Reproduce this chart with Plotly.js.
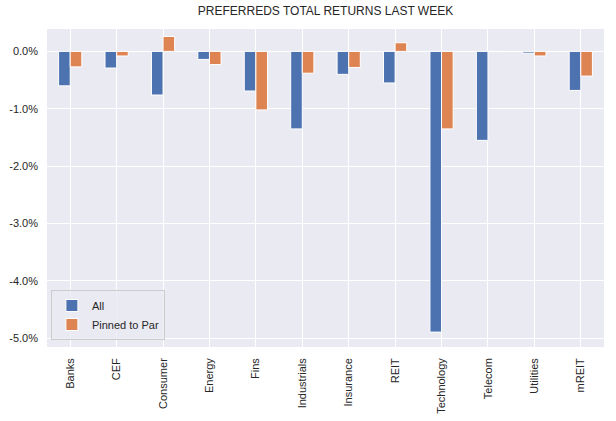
<!DOCTYPE html>
<html><head><meta charset="utf-8">
<script src="https://cdn.plot.ly/plotly-3.0.1.min.js"></script>
<style>html,body{margin:0;padding:0;background:#fff}</style>
</head><body>
<div id="chart" style="width:616px;height:421px"></div>
<script>
const categories = ["Banks","CEF","Consumer","Energy","Fins","Industrials","Insurance","REIT","Technology","Telecom","Utilities","mREIT"];
const allValues = [-0.60,-0.29,-0.76,-0.14,-0.69,-1.35,-0.40,-0.55,-4.89,-1.55,-0.03,-0.68];
const pinnedValues = [-0.27,-0.08,0.26,-0.23,-1.02,-0.38,-0.28,0.15,-1.35,0.0,-0.08,-0.43];
const yTickVals = [0,-1,-2,-3,-4,-5];
const yTickText = ["0.0%","-1.0%","-2.0%","-3.0%","-4.0%","-5.0%"];

const traces = [
  {type:'bar', name:'All', x:categories, y:allValues,
   marker:{color:'#4C72B0', line:{color:'#ffffff', width:1}}},
  {type:'bar', name:'Pinned to Par', x:categories, y:pinnedValues,
   marker:{color:'#DD8452', line:{color:'#ffffff', width:1}}}
];
const layout = {
  width:616, height:421,
  margin:{l:47, r:12, t:29, b:74},
  paper_bgcolor:'#ffffff', plot_bgcolor:'#EAEAF2',
  font:{family:'"Liberation Sans", Arial, sans-serif', size:11, color:'#262626'},
  title:{text:'PREFERREDS TOTAL RETURNS LAST WEEK', font:{size:12, color:'#262626'}, x:0.5, xref:'paper', y:0.975, yref:'container', yanchor:'middle'},
  barmode:'group', bargap:0.5, bargroupgap:0,
  showlegend:true,
  legend:{x:0.007, y:0.022, xanchor:'left', yanchor:'bottom', bgcolor:'rgba(234,234,242,0.8)', bordercolor:'#cccccc', borderwidth:1, font:{size:11, color:'#262626'}, tracegroupgap:0},
  xaxis:{type:'category', range:[-0.5,11.5], tickangle:-90, showgrid:true, gridcolor:'#ffffff', gridwidth:1, zeroline:false, ticks:'', ticklabelstandoff:8, tickfont:{size:11, color:'#262626'}, showline:false},
  yaxis:{range:[-5.15,0.39], tickvals:yTickVals, ticktext:yTickText, showgrid:true, gridcolor:'#ffffff', gridwidth:1, zeroline:false, ticks:'', ticklabelstandoff:8, tickfont:{size:11, color:'#262626'}, showline:false}
};
Plotly.newPlot('chart', traces, layout, {displayModeBar:false, staticPlot:true});
</script>
</body></html>
